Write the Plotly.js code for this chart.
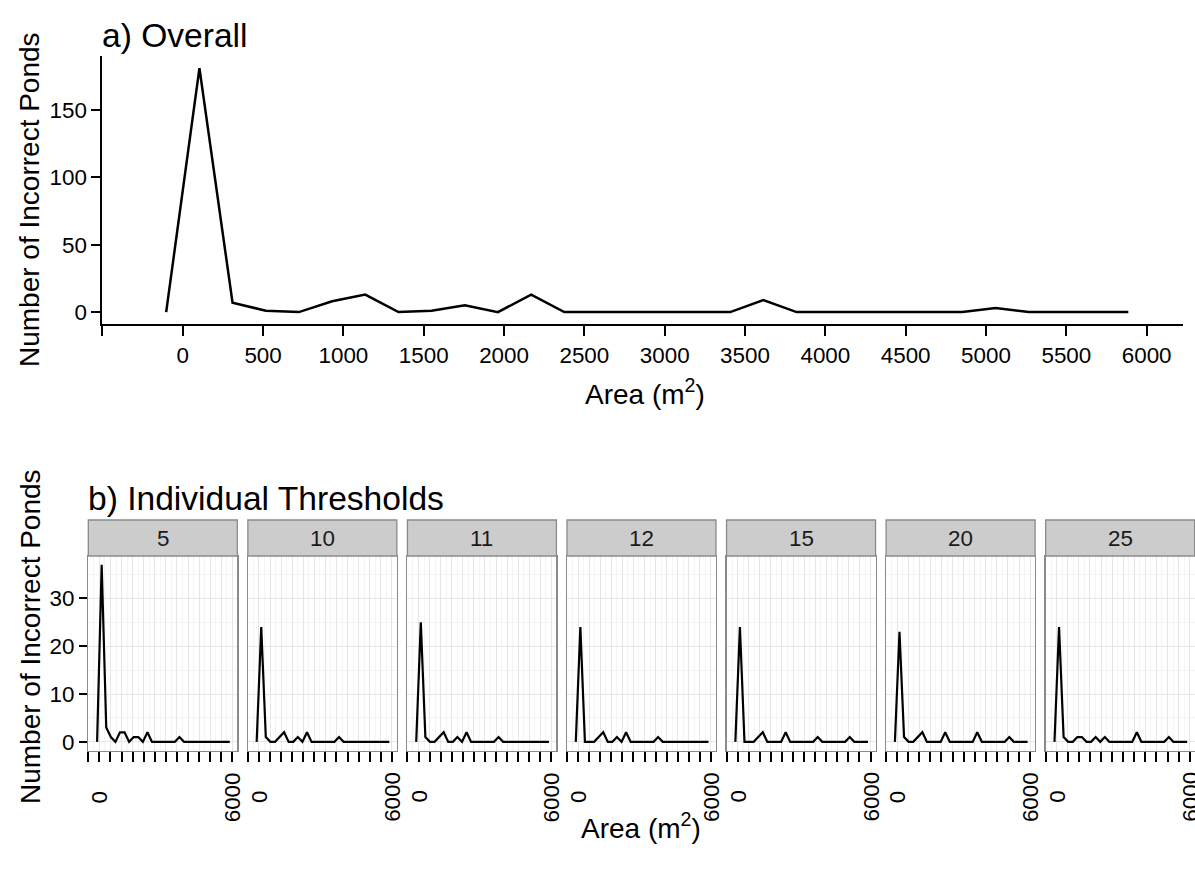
<!DOCTYPE html>
<html>
<head>
<meta charset="utf-8">
<script src="https://cdn.plot.ly/plotly-3.0.1.min.js"></script>
<style>html,body{margin:0;padding:0;background:#fff;}#chart{width:1195px;height:875px;}</style>
</head>
<body>
<div id="chart"></div>
<script>
// ---- data ----
var areaBins = [-103, 104, 310, 517, 723, 930, 1136, 1343, 1549, 1756, 1962, 2169, 2375, 2582, 2788, 2995, 3201, 3408, 3614, 3821, 4027, 4234, 4440, 4647, 4853, 5060, 5266, 5473, 5679, 5886];
var overallCounts = [0, 181, 7, 1, 0, 8, 13, 0, 1, 5, 0, 13, 0, 0, 0, 0, 0, 0, 9, 0, 0, 0, 0, 0, 0, 3, 0, 0, 0, 0];
var thresholds = ["5", "10", "11", "12", "15", "20", "25"];
var counts5  = [0, 37, 3, 1, 0, 2, 2, 0, 1, 1, 0, 2, 0, 0, 0, 0, 0, 0, 1, 0, 0, 0, 0, 0, 0, 0, 0, 0, 0, 0];
var counts10 = [0, 24, 1, 0, 0, 1, 2, 0, 0, 1, 0, 2, 0, 0, 0, 0, 0, 0, 1, 0, 0, 0, 0, 0, 0, 0, 0, 0, 0, 0];
var counts11 = [0, 25, 1, 0, 0, 1, 2, 0, 0, 1, 0, 2, 0, 0, 0, 0, 0, 0, 1, 0, 0, 0, 0, 0, 0, 0, 0, 0, 0, 0];
var counts12 = [0, 24, 0, 0, 0, 1, 2, 0, 0, 1, 0, 2, 0, 0, 0, 0, 0, 0, 1, 0, 0, 0, 0, 0, 0, 0, 0, 0, 0, 0];
var counts15 = [0, 24, 0, 0, 0, 1, 2, 0, 0, 0, 0, 2, 0, 0, 0, 0, 0, 0, 1, 0, 0, 0, 0, 0, 0, 1, 0, 0, 0, 0];
var counts20 = [0, 23, 1, 0, 0, 1, 2, 0, 0, 0, 0, 2, 0, 0, 0, 0, 0, 0, 2, 0, 0, 0, 0, 0, 0, 1, 0, 0, 0, 0];
var counts25 = [0, 24, 1, 0, 0, 1, 1, 0, 0, 1, 0, 1, 0, 0, 0, 0, 0, 0, 2, 0, 0, 0, 0, 0, 0, 1, 0, 0, 0, 0];
var facetCounts = [counts5, counts10, counts11, counts12, counts15, counts20, counts25];
var topXTicks = [0, 500, 1000, 1500, 2000, 2500, 3000, 3500, 4000, 4500, 5000, 5500, 6000];
var topXUnlabeledTicks = [-500];
var topYTicks = [0, 50, 100, 150];
var facetYTicks = [0, 10, 20, 30];
var facetXLabelVals = [0, 6000];

// ---- layout helpers (pixel geometry) ----
var W = 1195, H = 875;
function fx(px){ return px / W; }
function fy(py){ return 1 - py / H; }
var FONT = "Liberation Sans, Arial, Helvetica, sans-serif";
var xRange = [-500, 6225];

var data = [];
data.push({x: areaBins, y: overallCounts, type: 'scatter', mode: 'lines',
  line: {color: '#000', width: 2.5}, xaxis: 'x', yaxis: 'y', hoverinfo: 'skip'});

var layout = {
  width: W, height: H,
  margin: {l: 0, r: 0, t: 0, b: 0},
  paper_bgcolor: '#fff', plot_bgcolor: 'rgba(0,0,0,0)',
  showlegend: false,
  font: {family: FONT, color: '#000', size: 22.4},
  xaxis: {domain: [fx(102.4), fx(1182.8)], range: xRange, anchor: 'y',
    tickmode: 'array', tickvals: topXTicks,
    ticks: 'outside', ticklen: 10, tickwidth: 2, tickcolor: '#000',
    showline: true, linecolor: '#000', linewidth: 2, showgrid: false, zeroline: false,
    tickfont: {size: 22.4, color: '#000'},
    minor: {tickmode: 'array', tickvals: topXUnlabeledTicks, ticks: 'outside', ticklen: 10,
      tickwidth: 2, tickcolor: '#000', showgrid: false}},
  yaxis: {domain: [fy(324.3), fy(56)], range: [-9.05, 190.05], anchor: 'x',
    tickmode: 'array', tickvals: topYTicks,
    ticks: 'outside', ticklen: 9, tickwidth: 2, tickcolor: '#000',
    showline: true, linecolor: '#000', linewidth: 2, showgrid: false, zeroline: false,
    tickfont: {size: 22.4, color: '#000'}},
  shapes: [],
  annotations: []
};

var panelTop = 556, panelBot = 750.7, stripTop = 520;
for (var i = 0; i < thresholds.length; i++) {
  var L = 88.3 + 159.56 * i, R = L + 149;
  var n = i + 2;
  var xa = 'x' + n, ya = 'y' + n;
  data.push({x: areaBins, y: facetCounts[i], type: 'scatter', mode: 'lines',
    line: {color: '#000', width: 2.2}, xaxis: xa, yaxis: ya, hoverinfo: 'skip'});
  layout['xaxis' + n] = {domain: [fx(L), fx(R)], range: xRange, anchor: ya,
    tickmode: 'linear', tick0: 0, dtick: 500, showticklabels: false,
    ticks: 'outside', ticklen: 10, tickwidth: 2, tickcolor: '#000',
    showline: true, mirror: true, linecolor: '#8a8a8a', linewidth: 1.3,
    showgrid: true, gridcolor: '#e6e6e6', gridwidth: 1, zeroline: false,
    minor: {tick0: 0, dtick: 250, showgrid: true, gridcolor: '#f4f4f4', gridwidth: 1, ticks: ''}};
  layout['yaxis' + n] = {domain: [fy(panelBot), fy(panelTop)], range: [-1.85, 38.85], anchor: xa,
    tickmode: 'array', tickvals: facetYTicks, showticklabels: (i === 0),
    ticks: (i === 0 ? 'outside' : ''), ticklen: 8, tickwidth: 2, tickcolor: '#000',
    showline: true, mirror: true, linecolor: '#8a8a8a', linewidth: 1.3,
    showgrid: true, gridcolor: '#e6e6e6', gridwidth: 1, zeroline: false,
    tickfont: {size: 22.4, color: '#000'},
    minor: {tickmode: 'array', tickvals: [5, 15, 25, 35], showgrid: true, gridcolor: '#f4f4f4', gridwidth: 1, ticks: ''}};
  // strip
  layout.shapes.push({type: 'rect', xref: 'paper', yref: 'paper',
    x0: fx(L), x1: fx(R), y0: fy(panelTop), y1: fy(stripTop),
    fillcolor: '#cccccc', line: {color: '#8a8a8a', width: 1.3}});
  layout.annotations.push({xref: 'paper', yref: 'paper', x: fx((L + R) / 2), y: fy((stripTop + panelTop) / 2),
    text: thresholds[i], showarrow: false, xanchor: 'center', yanchor: 'middle',
    font: {size: 22.4, color: '#1a1a1a'}});
  // rotated x tick labels
  for (var j = 0; j < facetXLabelVals.length; j++) {
    layout.annotations.push({xref: xa, yref: 'paper', x: facetXLabelVals[j], y: fy(797),
      text: String(facetXLabelVals[j]), showarrow: false, textangle: -90,
      xanchor: 'center', yanchor: 'middle', font: {size: 22.4, color: '#000'}});
  }
}

// titles
layout.annotations.push({xref: 'paper', yref: 'paper', x: fx(100), y: fy(35), text: 'a) Overall',
  showarrow: false, xanchor: 'left', yanchor: 'middle', font: {size: 33.6, color: '#000'}});
layout.annotations.push({xref: 'paper', yref: 'paper', x: fx(86), y: fy(498), text: 'b) Individual Thresholds',
  showarrow: false, xanchor: 'left', yanchor: 'middle', font: {size: 33.6, color: '#000'}});
layout.annotations.push({xref: 'paper', yref: 'paper', x: fx(30), y: fy(200), text: 'Number of Incorrect Ponds',
  showarrow: false, textangle: -90, xanchor: 'center', yanchor: 'middle', font: {size: 28, color: '#000'}});
layout.annotations.push({xref: 'paper', yref: 'paper', x: fx(30), y: fy(637), text: 'Number of Incorrect Ponds',
  showarrow: false, textangle: -90, xanchor: 'center', yanchor: 'middle', font: {size: 28, color: '#000'}});
layout.annotations.push({xref: 'paper', yref: 'paper', x: fx(645), y: fy(392), text: 'Area (m<sup>2</sup>)',
  showarrow: false, xanchor: 'center', yanchor: 'middle', font: {size: 28, color: '#000'}});
layout.annotations.push({xref: 'paper', yref: 'paper', x: fx(641), y: fy(826), text: 'Area (m<sup>2</sup>)',
  showarrow: false, xanchor: 'center', yanchor: 'middle', font: {size: 28, color: '#000'}});

Plotly.newPlot('chart', data, layout, {displayModeBar: false, staticPlot: true});
</script>
</body>
</html>
